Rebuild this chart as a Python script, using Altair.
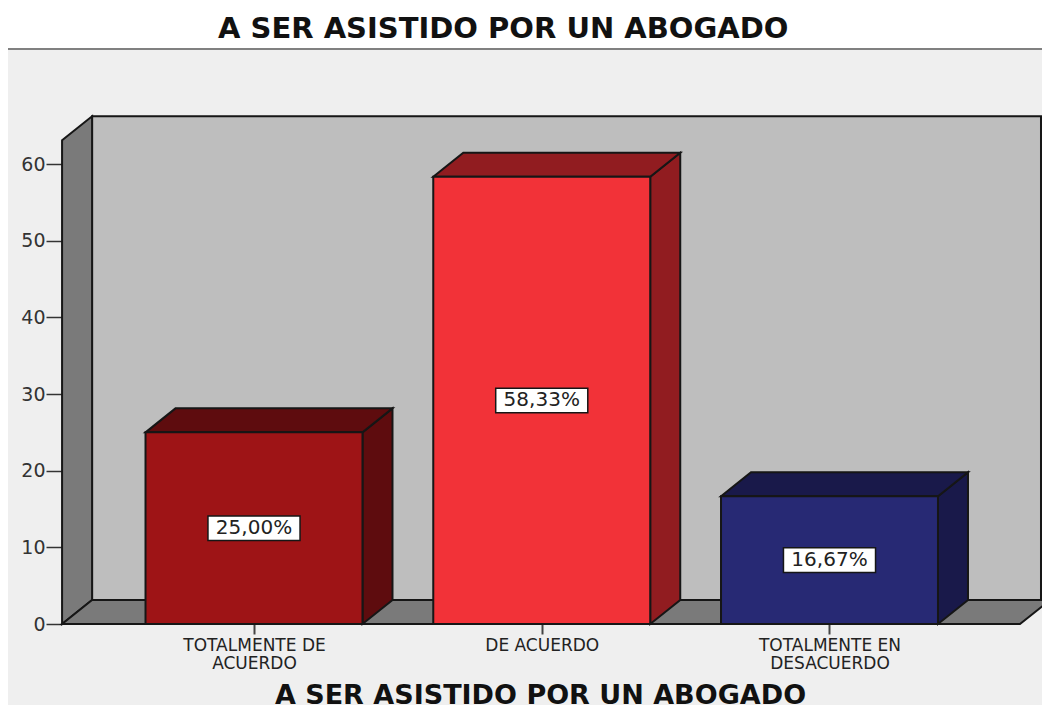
import altair as alt
import pandas as pd

TITLE = "A SER ASISTIDO POR UN ABOGADO"
categories = ["TOTALMENTE  DE|ACUERDO", "DE ACUERDO", "TOTALMENTE EN|DESACUERDO"]
values = [25.0, 58.33, 16.67]
labels = ["25,00%", "58,33%", "16,67%"]
front_colors = ["#9e1416", "#f23238", "#272974"]
dark_colors = ["#5e0c0e", "#911c20", "#19194a"]
x_ticks = [0, 1, 2]
y_ticks = [0, 10, 20, 30, 40, 50, 60]

# depth of the 3D box, in data units
DX, DY = 0.1043, 3.13
HALF = 0.377
LEFT, RIGHT = -0.667, 2.662
WALL_RIGHT = 2.735
WALL_TOP = 63.1
XDOM = [-0.8549, 2.7385]
YDOM = [-10.56, 75.13]
FONT = "DejaVu Sans"
STROKE = "#161616"

xs = alt.Scale(domain=XDOM, nice=False, zero=False)
ys = alt.Scale(domain=YDOM, nice=False, zero=False)
label_expr = "split(" + str(categories) + "[datum.value], '|')"
x_axis = alt.Axis(
    values=x_ticks, labelExpr=label_expr, grid=False, domain=False, offset=-81,
    tickSize=10, tickColor="#444444", tickWidth=2, labelFontSize=17, labelFont=FONT,
    labelColor="#222222", labelPadding=3, labelBaseline="top", labelOverlap=False, labelFlush=False,
    labelLineHeight=18,
    titleFont=FONT, titleFontSize=27, titleFontWeight="bold", titleColor="#111111",
    titleX=532, titleY=71, titleBaseline="middle", titleAlign="center",
)
y_axis = alt.Axis(
    values=y_ticks, grid=False, domain=False, offset=-54,
    tickSize=16, tickColor="#333333", tickWidth=1.5, labelFontSize=19, labelFont=FONT,
    labelColor="#333333", labelPadding=1,
)
X = alt.X("x:Q", scale=xs, axis=x_axis, title=TITLE)
Y = alt.Y("y:Q", scale=ys, axis=y_axis, title=None)


def poly(rows, color):
    df = pd.DataFrame(rows, columns=["x", "y", "y2"])
    return alt.Chart(df).mark_area(fill=color, stroke=STROKE, strokeWidth=2, opacity=1, clip=True).encode(
        x=X, y=Y, y2="y2:Q"
    )


def box_top(x0, x1, t, color):
    return poly([(x0, t, t), (x0 + DX, t + DY, t), (x1, t + DY, t), (x1 + DX, t + DY, t + DY)], color)


def rect(x0, x1, y0, y1, color, sw=2):
    df = pd.DataFrame({"x": [x0], "x2": [x1], "y": [y0], "y2": [y1]})
    return alt.Chart(df).mark_rect(fill=color, stroke=STROKE, strokeWidth=sw, clip=True).encode(
        x=X, x2="x2:Q", y=Y, y2="y2:Q"
    )


layers = [
    rect(LEFT + DX, WALL_RIGHT, DY, WALL_TOP + DY, "#bebebe"),
    poly([(LEFT, WALL_TOP, 0), (LEFT + DX, WALL_TOP + DY, DY)], "#7a7a7a"),
    box_top(LEFT, RIGHT, 0, "#7a7a7a"),
]
for i, v in enumerate(values):
    x0, x1 = i - HALF, i + HALF
    layers.append(poly([(x1, v, 0), (x1 + DX, v + DY, DY)], dark_colors[i]))
    layers.append(box_top(x0, x1, v, dark_colors[i]))
    layers.append(rect(x0, x1, 0, v, front_colors[i]))
    layers.append(rect(i - 0.16, i + 0.16, v / 2 - 1.6, v / 2 + 1.6, "#ffffff", 1.5))
    text_df = pd.DataFrame({"x": [i], "y": [v / 2], "t": [labels[i]]})
    layers.append(alt.Chart(text_df).mark_text(
        font=FONT, fontSize=20, color="#222222", baseline="middle", align="center"
    ).encode(x=X, y=Y, text="t:N"))

top_rule = alt.Chart(pd.DataFrame({"y": [YDOM[1]]})).mark_rule(color="#808080", strokeWidth=4, clip=True).encode(y=Y)
layers.append(top_rule)

chart = alt.layer(*layers).properties(
    width=1034, height=657, padding={"left": 0, "top": 7, "right": 0, "bottom": 0},
    title=alt.TitleParams(TITLE, font=FONT, fontSize=29, fontWeight="bold", color="#111111",
                          anchor="start", dx=210, offset=4),
).configure_view(fill="#efefef", stroke=None)

chart.save("out.html", embed_options={"renderer": "svg", "actions": False})
